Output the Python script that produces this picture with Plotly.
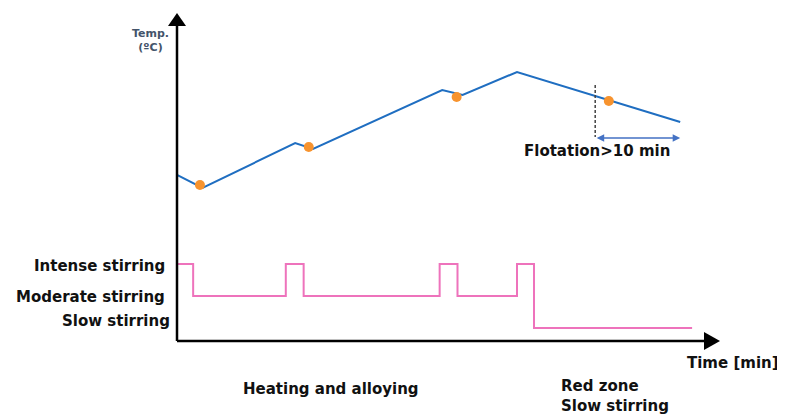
import plotly.graph_objects as go

# ---- data (arbitrary units) ----
temp_time = [0, 3.0, 13.9, 16.0, 31.2, 33.6, 40.0, 59.2]          # min
temp_values = [1583, 1576.5, 1599, 1596, 1625.5, 1623, 1634.5, 1609.5]  # degC

sample_time = [2.7, 15.5, 32.9, 50.8]
sample_temp = [1578, 1597, 1622, 1620]

stir_time = [0, 1.9, 12.8, 14.9, 30.9, 33.0, 40.0, 42.0, 60.6]
stir_level = [3, 2, 3, 2, 3, 2, 3, 1, 1]   # 1 slow, 2 moderate, 3 intense
stir_labels = ["Slow stirring", "Moderate stirring", "Intense stirring"]

flotation_start = 49.2
flotation_minutes = 10
flotation_temp_top = 1628
flotation_temp_bottom = 1602

# page body has an 8px margin: figure is shifted by 8px right/down
OFF = 8
W, H = 785 - OFF, 414 - OFF
L, R, T, B = 177 - OFF, 65, 13 - OFF, 73
pw, ph = W - L - R, H - T - B

def px(x):
    return (x - 177) / pw

def py(y):
    return (341 - y) / ph

FONT = "DejaVu Sans"
TXT = "#111111"
FS = 15

fig = go.Figure()

fig.add_trace(go.Scatter(
    x=temp_time, y=temp_values, mode="lines",
    line=dict(color="#1F6EC1", width=2), hoverinfo="skip", cliponaxis=False))
fig.add_trace(go.Scatter(
    x=sample_time, y=sample_temp, mode="markers",
    marker=dict(color="#F7932E", size=10, line=dict(width=0)), cliponaxis=False))
fig.add_trace(go.Scatter(
    x=stir_time, y=stir_level, mode="lines", yaxis="y2",
    line=dict(color="#EE73BC", width=2, shape="hv"), cliponaxis=False))
# flotation marker: dashed line
fig.add_trace(go.Scatter(
    x=[flotation_start, flotation_start], y=[flotation_temp_top, flotation_temp_bottom],
    mode="lines", line=dict(color="#444444", width=1.5, dash="3px,2px")))

fig.update_layout(
    width=W, height=H, margin=dict(l=L, r=R, t=T, b=B),
    paper_bgcolor="white", plot_bgcolor="white", showlegend=False,
    xaxis=dict(range=[0, pw / 8.5], visible=False),
    yaxis=dict(range=[1500, 1500 + ph * 0.5], visible=False),
    yaxis2=dict(range=[1 - 13 / 32, 1 - 13 / 32 + ph / 32], overlaying="y",
                visible=False),
)

# axes with arrowheads
fig.add_shape(type="line", xref="paper", yref="paper", x0=0, y0=0, x1=px(706), y1=0,
              line=dict(color="black", width=2.5))
fig.add_shape(type="line", xref="paper", yref="paper", x0=0, y0=0, x1=0, y1=py(24),
              line=dict(color="black", width=2.5))
fig.add_shape(type="path", xref="paper", yref="paper",
              path=f"M {px(720)} 0 L {px(704)} {py(332)} L {px(704)} {py(350)} Z",
              fillcolor="black", line=dict(width=0))
fig.add_shape(type="path", xref="paper", yref="paper",
              path=f"M 0 {py(13)} L {px(168)} {py(26)} L {px(186)} {py(26)} Z",
              fillcolor="black", line=dict(width=0))

# flotation double arrow
fig.add_annotation(x=flotation_start + flotation_minutes, y=flotation_temp_bottom - 0.5,
                   ax=flotation_start, ay=flotation_temp_bottom - 0.5,
                   axref="x", ayref="y", xref="x", yref="y", text="",
                   showarrow=True, arrowhead=2, arrowside="end+start",
                   arrowsize=1, arrowwidth=1.5, arrowcolor="#4472C4")


def label(text, x, y, xanchor="left", size=FS, color=TXT, align="left"):
    fig.add_annotation(x=px(x), y=py(y), xref="paper", yref="paper",
                       text=text, showarrow=False, xanchor=xanchor,
                       yanchor="middle", align=align,
                       font=dict(family=FONT, size=size, color=color))


label("<b>Flotation>10 min</b>", 597, 151, xanchor="center")
for lbl, yy, xr in [(stir_labels[2], 266, 167), (stir_labels[1], 297, 167),
                    (stir_labels[0], 321, 172)]:
    label(f"<b>{lbl}</b>", xr, yy, xanchor="right")
label("<b>Temp.<br>(ºC)</b>", 150, 41, xanchor="center", size=11,
      color="#44546A", align="center")
label("<b>Time [min]</b>", 781, 363, xanchor="right")
label("<b>Heating and alloying</b>", 241, 389)
label("<b>Red zone<br>Slow stirring</b>", 559, 396)

fig.write_html("out.html")
